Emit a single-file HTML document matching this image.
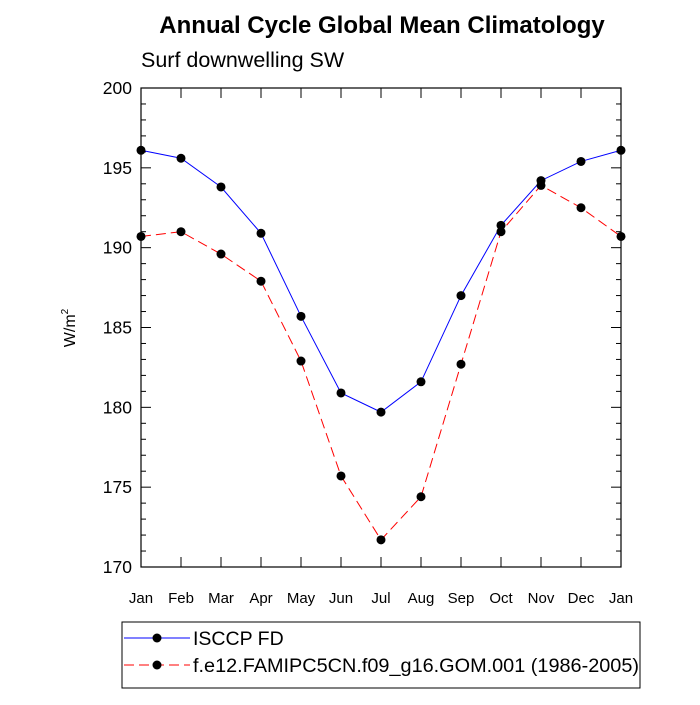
<!DOCTYPE html>
<html><head><meta charset="utf-8"><style>
body{margin:0;background:#fff}
svg text{font-family:"Liberation Sans",sans-serif;fill:#000}
</style></head><body>
<svg id="c" width="700" height="700" xmlns="http://www.w3.org/2000/svg">
<text x="382" y="33" font-size="24" font-weight="bold" text-anchor="middle">Annual Cycle Global Mean Climatology</text>
<text x="141" y="67" font-size="21.5">Surf downwelling SW</text>
<text transform="translate(75,328) rotate(-90)" font-size="16" text-anchor="middle">W/m<tspan dy="-7" font-size="10">2</tspan></text>
<g id="axes"></g>
<g id="series"></g>
<g>
<rect x="122" y="622" width="518" height="66" fill="none" stroke="#000" stroke-width="1"/>
<g>
<line x1="124" y1="638" x2="190" y2="638" stroke="#00f"/>
<circle cx="157" cy="638" r="4.5" fill="#000"/>
<text x="193" y="645" font-size="19.5">ISCCP FD</text></g>
<g>
<line x1="124" y1="665" x2="190" y2="665" stroke="#f00" stroke-dasharray="10,5"/>
<circle cx="157" cy="665" r="4.5" fill="#000"/>
<text x="193" y="672" font-size="19.5" textLength="446" lengthAdjust="spacingAndGlyphs">f.e12.FAMIPC5CN.f09_g16.GOM.001 (1986-2005)</text></g>
</g>
</svg>
<script>
const months=["Jan","Feb","Mar","Apr","May","Jun","Jul","Aug","Sep","Oct","Nov","Dec","Jan"];
const isccp=[196.1,195.6,193.8,190.9,185.7,180.9,179.7,181.6,187.0,191.4,194.2,195.4,196.1];
const model=[190.7,191.0,189.6,187.9,182.9,175.7,171.7,174.4,182.7,191.0,193.9,192.5,190.7];
const yTicks=[170,175,180,185,190,195,200];
const X0=141,X1=621,Y0=567,Y1=88,ymin=170,ymax=200;
const xs=i=>X0+i*(X1-X0)/(months.length-1);
const ys=v=>Y0-(v-ymin)*(Y0-Y1)/(ymax-ymin);
const NS="http://www.w3.org/2000/svg";
function mk(p,t,a){const e=document.createElementNS(NS,t);for(const k in a)e.setAttribute(k,a[k]);p.appendChild(e);return e;}
const ax=document.getElementById('axes');
const fr=mk(ax,'rect',{x:X0,y:Y1,width:X1-X0,height:Y0-Y1,fill:'none',stroke:'#000','stroke-width':1.2});


for(let v=ymin;v<=ymax;v++){const maj=v%5===0,L=maj?10:5,y=ys(v);
mk(ax,'line',{x1:X0,y1:y,x2:X0+L,y2:y,stroke:'#000'});mk(ax,'line',{x1:X1,y1:y,x2:X1-L,y2:y,stroke:'#000'});}
yTicks.forEach(v=>{const t=mk(ax,'text',{x:X0-9,y:ys(v)+6,'font-size':17.5,'text-anchor':'end'});t.textContent=v;

});
months.forEach((m,i)=>{const x=xs(i);
mk(ax,'line',{x1:x,y1:Y0,x2:x,y2:Y0-10,stroke:'#000'});mk(ax,'line',{x1:x,y1:Y1,x2:x,y2:Y1+10,stroke:'#000'});
const t=mk(ax,'text',{x:x,y:Y0+36,'font-size':15,'text-anchor':'middle'});t.textContent=m;

});
const sg=document.getElementById('series');
function draw(vals,col,dash,name){
const g=mk(sg,'g',{});


mk(g,'polyline',{points:vals.map((v,i)=>xs(i)+','+ys(v)).join(' '),fill:'none',stroke:col,'stroke-width':1,'stroke-dasharray':dash});
vals.forEach((v,i)=>{const c=mk(g,'circle',{cx:xs(i),cy:ys(v),r:4.5,fill:'#000'});

});}
draw(isccp,'#00f','none','isccp-line');
draw(model,'#f00','10,5','model-line');
</script>
</body></html>
